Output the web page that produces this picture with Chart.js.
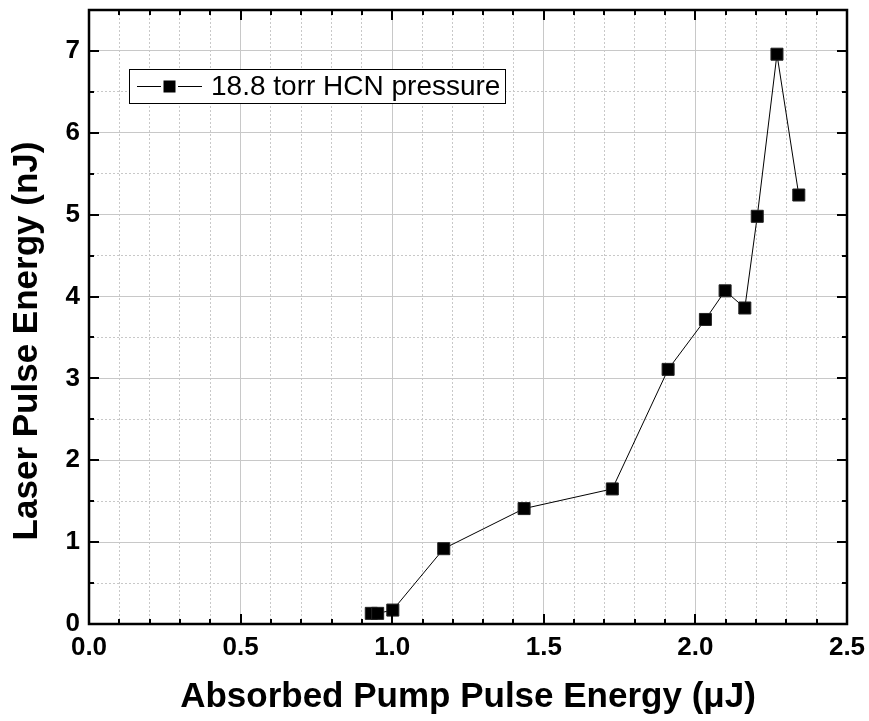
<!DOCTYPE html>
<html>
<head>
<meta charset="utf-8">
<script src="https://cdn.jsdelivr.net/npm/chart.js@4"></script>
<style>
    body { margin: 0; background: #fff; }
    canvas { display: block; }
</style>
</head>
<body>
<canvas id="chart" width="869" height="721"></canvas>
<script>
// absorbed pump energy (uJ) and laser output (nJ)
const pumpEnergy = [0.931, 0.952, 1.002, 1.170, 1.435, 1.726, 1.910, 2.033, 2.098, 2.163, 2.204, 2.269, 2.341];
const laserEnergy = [0.13, 0.13, 0.17, 0.92, 1.41, 1.65, 3.11, 3.72, 4.07, 3.86, 4.98, 6.96, 5.24];
const seriesLabel = '18.8 torr HCN pressure';
const xTitle = 'Absorbed Pump Pulse Energy (\u03bcJ)';
const yTitle = 'Laser Pulse Energy (nJ)';

const FONT = "'Liberation Sans', Arial, sans-serif";
const gridColor = '#c8c8c8';

const isMajor = (v, step) => Math.abs(v / step - Math.round(v / step)) < 1e-6;

// no automatic label overflow padding, the plot box is fixed
const noPad = s => { s.paddingTop = 0; s.paddingBottom = 0; s.paddingLeft = 0; s.paddingRight = 0; };

// frame, inward ticks on all sides, legend box and y title
const framePlugin = {
    id: 'frame',
    afterDraw(chart) {
        const ctx = chart.ctx;
        const a = chart.chartArea;
        const sx = chart.scales.x, sxm = chart.scales.xm;
        const sy = chart.scales.y, sym = chart.scales.ym;
        ctx.save();
        ctx.strokeStyle = '#000';
        ctx.lineWidth = 2;
        ctx.beginPath();
        sxm.ticks.forEach(t => {
            const len = isMajor(t.value, 0.5) ? 10 : 5;
            const px = Math.round(sx.getPixelForValue(t.value));
            ctx.moveTo(px, a.bottom); ctx.lineTo(px, a.bottom - len);
            ctx.moveTo(px, a.top); ctx.lineTo(px, a.top + len);
        });
        sym.ticks.forEach(t => {
            const len = isMajor(t.value, 1) ? 10 : 5;
            const py = Math.round(sy.getPixelForValue(t.value));
            ctx.moveTo(a.left, py); ctx.lineTo(a.left + len, py);
            ctx.moveTo(a.right, py); ctx.lineTo(a.right - len, py);
        });
        ctx.stroke();
        ctx.lineWidth = 2.5;
        ctx.strokeRect(a.left, a.top, a.right - a.left, a.bottom - a.top);

        // legend
        const lx = 129.5, ly = 69.5, lw = 376, lh = 34, cy = 86.5;
        ctx.fillStyle = '#fff';
        ctx.fillRect(lx, ly, lw, lh);
        ctx.lineWidth = 1;
        ctx.strokeRect(lx, ly, lw, lh);
        ctx.beginPath();
        ctx.moveTo(137, cy); ctx.lineTo(161, cy);
        ctx.moveTo(178, cy); ctx.lineTo(202, cy);
        ctx.stroke();
        ctx.fillStyle = '#000';
        ctx.fillRect(163.5, cy - 6, 12, 12);
        ctx.font = '28px ' + FONT;
        ctx.textBaseline = 'middle';
        ctx.textAlign = 'left';
        ctx.fillText(chart.data.datasets[0].label, 211, cy + 1);

        // y axis title
        ctx.translate(37, 341);
        ctx.rotate(-Math.PI / 2);
        ctx.font = 'bold 35px ' + FONT;
        ctx.textAlign = 'center';
        ctx.textBaseline = 'alphabetic';
        ctx.fillText(yTitle, 0, 0);
        ctx.restore();
    }
};

const tickFont = { family: FONT, size: 26, weight: 'bold' };

new Chart(document.getElementById('chart'), {
    type: 'line',
    data: {
        datasets: [{
            label: seriesLabel,
            data: pumpEnergy.map((x, i) => ({ x: x, y: laserEnergy[i] })),
            borderColor: '#000',
            borderWidth: 1,
            pointStyle: 'rect',
            pointRadius: 8.5,
            pointBackgroundColor: '#000',
            pointBorderColor: '#222',
            pointBorderWidth: 1,
            tension: 0
        }]
    },
    options: {
        responsive: false,
        animation: false,
        events: [],
        layout: { padding: { top: 10, right: 22, left: 0, bottom: 0 } },
        plugins: { legend: { display: false }, tooltip: { enabled: false } },
        scales: {
            x: {
                type: 'linear', position: 'bottom', min: 0, max: 2.5,
                ticks: { stepSize: 0.5, font: tickFont, color: '#000', padding: 8,
                         callback: v => v.toFixed(1) },
                grid: { color: gridColor, lineWidth: 1, drawTicks: false },
                border: { display: false },
                title: { display: true, text: xTitle, color: '#000',
                         font: { family: FONT, size: 35, weight: 'bold' },
                         padding: { top: 0, bottom: 3 } },
                afterFit: s => { s.height = 97; noPad(s); }
            },
            xm: {
                type: 'linear', position: 'bottom', min: 0, max: 2.5,
                ticks: { display: false, stepSize: 0.1 },
                grid: { color: c => isMajor(c.tick.value, 0.5) ? 'rgba(0,0,0,0)' : gridColor,
                        lineWidth: 1, drawTicks: false },
                border: { display: false, dash: [2, 2] },
                afterFit: s => { s.height = 0; noPad(s); }
            },
            y: {
                type: 'linear', position: 'left', min: 0, max: 7.5,
                ticks: { stepSize: 1, includeBounds: false, font: tickFont, color: '#000', padding: 9 },
                grid: { color: gridColor, lineWidth: 1, drawTicks: false },
                border: { display: false },
                afterFit: s => { s.width = 89; noPad(s); }
            },
            ym: {
                type: 'linear', position: 'left', min: 0, max: 7.5,
                ticks: { display: false, stepSize: 0.5 },
                grid: { color: c => isMajor(c.tick.value, 1) ? 'rgba(0,0,0,0)' : gridColor,
                        lineWidth: 1, drawTicks: false },
                border: { display: false, dash: [2, 2] },
                afterFit: s => { s.width = 0; noPad(s); }
            }
        }
    },
    plugins: [framePlugin]
});
</script>
</body>
</html>
